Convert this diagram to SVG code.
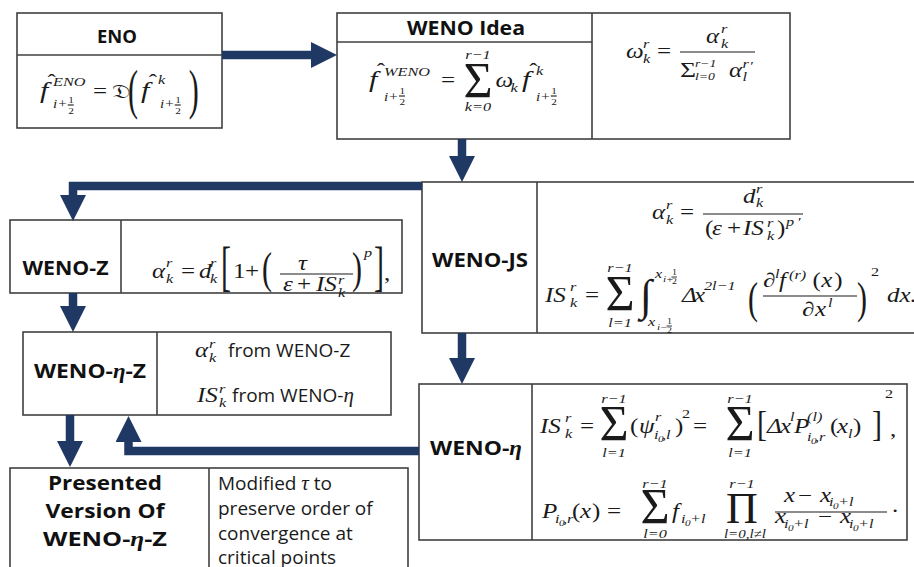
<svg xmlns="http://www.w3.org/2000/svg" width="914" height="567" viewBox="0 0 914 567">
<style>
.box{fill:#fff;stroke:#404040;stroke-width:1.6}
.ln{stroke:#404040;stroke-width:1.6;fill:none}
.h{font-family:"Open Sans",sans-serif;font-weight:700;font-size:20px;fill:#111;text-anchor:middle}
.p{font-family:"Open Sans",sans-serif;font-size:19px;fill:#1a1a1a}
.m{font-family:"Liberation Serif",serif;font-style:italic;font-size:20px;fill:#1a1a1a}
.u{font-style:normal}
.s{font-size:13px}
.s12{font-size:12px}
.s11{font-size:11px}
.t{font-size:9px}
.c{text-anchor:middle}
.f{font-size:24px}
.big{font-family:"Liberation Serif",serif;fill:#1a1a1a;text-anchor:middle}
.fb{stroke:#1a1a1a;stroke-width:1.1}
.eta{font-family:"Liberation Serif",serif;font-style:italic;font-weight:700}
.mi{font-family:"Liberation Serif",serif;font-style:italic;font-size:21px}
.con{fill:none;stroke:#1f3864;stroke-width:8.5;stroke-linejoin:miter}
</style>
<defs>
<marker id="ah" markerUnits="userSpaceOnUse" markerWidth="28" markerHeight="28" refX="0" refY="13" orient="auto"><path d="M0,0 L26,13 L0,26 z" fill="#1f3864"/></marker>
</defs>

<g id="eno">
<rect class="box" x="17" y="13" width="205" height="115"/>
<line class="ln" x1="17" y1="55" x2="222" y2="55"/>
<text class="h" x="117" y="43" style="font-size:18px" textLength="40" lengthAdjust="spacingAndGlyphs">ENO</text>
<g transform="scale(1.25,1)">
<text class="m f" x="32" y="98">f</text>
<text class="m u" x="38" y="89">ˆ</text>
<text class="m s" x="42.4" y="86">ENO</text>
<text class="m s12" x="42.4" y="108">i+</text>
<text class="m u t" x="54.6" y="103">1</text>
<line class="fb" x1="54.2" y1="105" x2="59" y2="105"/>
<text class="m u t" x="54.6" y="114.5">2</text>
<text class="m u" x="74.4" y="98">=</text>
<text class="m u" x="89.6" y="98">𝔇</text>
<text class="m u f" transform="translate(102.4,108.2) scale(1,2.29)">(</text>
<text class="m f" x="112.8" y="98">f</text>
<text class="m u" x="119" y="89">ˆ</text>
<text class="m s" x="126.4" y="84">k</text>
<text class="m s12" x="128" y="108">i+</text>
<text class="m u t" x="140.2" y="103">1</text>
<line class="fb" x1="139.8" y1="105" x2="144.6" y2="105"/>
<text class="m u t" x="140.2" y="114.5">2</text>
<text class="m u f" transform="translate(151,108.2) scale(1,2.29)">)</text>
</g>
</g>

<g id="weno-idea">
<rect class="box" x="337" y="13" width="453" height="126"/>
<line class="ln" x1="592" y1="13" x2="592" y2="139"/>
<line class="ln" x1="337" y1="42" x2="592" y2="42"/>
<text class="h" x="466" y="35" textLength="118" lengthAdjust="spacingAndGlyphs">WENO Idea</text>
<text class="big" x="478" y="97" style="font-size:50px">Σ</text>
<g transform="scale(1.25,1)">
<text class="m f" x="295.2" y="87">f</text>
<text class="m u" x="301.5" y="78">ˆ</text>
<text class="m s" x="307.2" y="76">WENO</text>
<text class="m s12" x="307.2" y="101">i+</text>
<text class="m u t" x="319.6" y="94">1</text>
<line class="fb" x1="319.2" y1="96" x2="324" y2="96"/>
<text class="m u t" x="319.6" y="105.5">2</text>
<text class="m u" x="352.8" y="87">=</text>
<text class="m s c" x="382.4" y="59">r−1</text>
<text class="m s c" x="382.4" y="111">k=0</text>
<text class="m" x="396.4" y="87">ω</text>
<text class="m s" x="408.4" y="92">k</text>
<text class="m f" x="417.6" y="87">f</text>
<text class="m u" x="423.5" y="78">ˆ</text>
<text class="m s" x="428.8" y="75">k</text>
<text class="m s12" x="428.8" y="101">i+</text>
<text class="m u t" x="441" y="94">1</text>
<line class="fb" x1="440.6" y1="96" x2="445.4" y2="96"/>
<text class="m u t" x="441" y="105.5">2</text>
<!-- omega -->
<text class="m" x="500.8" y="58">ω</text>
<text class="m s" x="514.4" y="48">r</text>
<text class="m s" x="514.4" y="63">k</text>
<text class="m u" x="525.6" y="58">=</text>
<line class="fb" x1="544" y1="52" x2="604" y2="52"/>
<text class="m" x="564.8" y="43">α</text>
<text class="m s" x="576.8" y="33">r</text>
<text class="m s" x="576.8" y="48">k</text>
<text class="m u" x="544" y="77" style="font-size:22px">Σ</text>
<text class="m s11" x="556" y="67">r−1</text>
<text class="m s11" x="556" y="80">l=0</text>
<text class="m" x="583.2" y="77">α</text>
<text class="m s" x="594" y="68">r</text>
<text class="m s" x="594" y="81">l</text>
<text class="m s" x="599.5" y="70">′</text>
</g>
</g>

<g id="weno-z">
<rect class="box" x="10" y="220" width="392" height="73"/>
<line class="ln" x1="121" y1="220" x2="121" y2="293"/>
<text class="h" x="65.5" y="275" textLength="86" lengthAdjust="spacingAndGlyphs">WENO-Z</text>
<g transform="scale(1.25,1)">
<text class="m" x="121.6" y="278">α</text>
<text class="m s" x="132.8" y="267">r</text>
<text class="m s" x="132.8" y="283">k</text>
<text class="m u" x="144.8" y="278">=</text>
<text class="m" x="159.2" y="278">d</text>
<text class="m s" x="168" y="267">r</text>
<text class="m s" x="168" y="283">k</text>
<text class="m u f" transform="translate(176.8,285) scale(1,2.28)">[</text>
<text class="m u" x="186.4" y="278">1</text>
<text class="m u" x="196" y="278">+</text>
<text class="m u f" transform="translate(209.6,282.5) scale(1,1.83)">(</text>
<text class="m" x="238.4" y="270">τ</text>
<line class="fb" x1="224" y1="274" x2="282.4" y2="274"/>
<text class="m" x="226.4" y="291">ε</text>
<text class="m u" x="237.6" y="291">+</text>
<text class="m" x="252.8" y="291">IS</text>
<text class="m s" x="270.4" y="284">r</text>
<text class="m s" x="270.4" y="297">k</text>
<text class="m u f" transform="translate(281.6,282.5) scale(1,1.83)">)</text>
<text class="m s" x="291.2" y="257">p</text>
<text class="m u f" transform="translate(299.2,285) scale(1,2.28)">]</text>
<text class="m u" x="307.2" y="280">,</text>
</g>
</g>

<g id="weno-js">
<rect class="box" x="422" y="182" width="500" height="151"/>
<line class="ln" x1="537" y1="182" x2="537" y2="333"/>
<text class="h" x="480" y="267" textLength="96" lengthAdjust="spacingAndGlyphs">WENO-JS</text>
<text class="big" x="620" y="310" style="font-size:50px">Σ</text>
<text class="big" x="646" y="310" style="font-size:44px">∫</text>
<line class="fb" x1="703" y1="214" x2="803" y2="214"/>
<line class="fb" x1="763" y1="296" x2="857" y2="296"/>
<g transform="scale(1.25,1)">
<text class="m" x="521.6" y="219">α</text>
<text class="m s" x="532.8" y="209">r</text>
<text class="m s" x="532.8" y="224">k</text>
<text class="m u" x="544" y="219">=</text>
<text class="m" x="594.4" y="203">d</text>
<text class="m s" x="604.8" y="193">r</text>
<text class="m s" x="604.8" y="207">k</text>
<text class="m u" x="564" y="235">(</text>
<text class="m" x="569.6" y="235">ε</text>
<text class="m u" x="581.6" y="235">+</text>
<text class="m" x="594.4" y="235">IS</text>
<text class="m s" x="613.6" y="227">r</text>
<text class="m s" x="613.6" y="240">k</text>
<text class="m u" x="621.6" y="235">)</text>
<text class="m s" x="628.8" y="226">p</text>
<text class="m s" x="637.6" y="226">′</text>
<!-- IS formula -->
<text class="m" x="436" y="302">IS</text>
<text class="m s" x="456" y="291">r</text>
<text class="m s" x="456" y="307">k</text>
<text class="m u" x="468" y="302">=</text>
<text class="m s c" x="496" y="272">r−1</text>
<text class="m s c" x="496" y="327">l=1</text>
<text class="m s" x="524" y="278">x</text>
<text class="m t" x="530.4" y="282">i+</text>
<text class="m u" x="537.6" y="275" style="font-size:8px">1</text>
<line class="fb" x1="537.2" y1="277" x2="541.5" y2="277" style="stroke-width:0.8"/>
<text class="m u" x="537.6" y="284" style="font-size:8px">2</text>
<text class="m s" x="518.4" y="326">x</text>
<text class="m t" x="525.6" y="330">i−</text>
<text class="m u" x="533.6" y="324" style="font-size:8px">1</text>
<line class="fb" x1="533.2" y1="326" x2="537.5" y2="326" style="stroke-width:0.8"/>
<text class="m u" x="533.6" y="333" style="font-size:8px">2</text>
<text class="m" x="545.6" y="302">Δ</text>
<text class="m" x="555.2" y="302">x</text>
<text class="m s" x="563.2" y="290">2l−1</text>
<text class="m u f" transform="translate(598.4,312.5) scale(1,1.83)">(</text>
<text class="m u" x="610.4" y="287">∂</text>
<text class="m s" x="620" y="278">l</text>
<text class="m" x="623.2" y="287">f</text>
<text class="m s" x="631.2" y="279">(r)</text>
<text class="m u" x="650" y="287">(</text>
<text class="m" x="657" y="287">x</text>
<text class="m u" x="667.5" y="287">)</text>
<text class="m u" x="641.6" y="316">∂</text>
<text class="m" x="652" y="316">x</text>
<text class="m s" x="662.4" y="307">l</text>
<text class="m u f" transform="translate(685.6,312.5) scale(1,1.83)">)</text>
<text class="m u s" x="696.8" y="276">2</text>
<text class="m" x="709.6" y="302">dx.</text>
</g>
</g>

<g id="weno-eta-z">
<rect class="box" x="23" y="332" width="368" height="83"/>
<line class="ln" x1="157" y1="332" x2="157" y2="415"/>
<text class="h" x="90" y="378" textLength="112" lengthAdjust="spacingAndGlyphs">WENO-<tspan class="eta">η</tspan>-Z</text>
<g transform="scale(1.25,1)">
<text class="m" x="156" y="357">α</text>
<text class="m s" x="167.2" y="348">r</text>
<text class="m s" x="167.2" y="362">k</text>
<text class="m" x="157.6" y="402">IS</text>
<text class="m s" x="175.2" y="393">r</text>
<text class="m s" x="175.2" y="407">k</text>
</g>
<text class="p" x="228" y="357">from WENO-Z</text>
<text class="p" x="232" y="402">from WENO-<tspan class="mi">η</tspan></text>
</g>

<g id="weno-eta">
<rect class="box" x="419" y="384" width="488" height="156"/>
<line class="ln" x1="532" y1="384" x2="532" y2="540"/>
<text class="h" x="476" y="455" textLength="92" lengthAdjust="spacingAndGlyphs">WENO-<tspan class="eta">η</tspan></text>
<text class="big" x="614" y="440" style="font-size:50px">Σ</text>
<text class="big" x="740" y="440" style="font-size:50px">Σ</text>
<text class="big" x="655" y="523" style="font-size:50px">Σ</text>
<text class="big" x="742" y="523" style="font-size:44px">Π</text>
<line class="fb" x1="775" y1="512" x2="887" y2="512"/>
<g transform="scale(1.25,1)">
<text class="m" x="432" y="433">IS</text>
<text class="m s" x="452" y="422">r</text>
<text class="m s" x="452" y="438">k</text>
<text class="m u" x="464" y="433">=</text>
<text class="m s c" x="491.2" y="403">r−1</text>
<text class="m s c" x="491.2" y="457">l=1</text>
<text class="m u" x="504" y="433">(</text>
<text class="m" x="511.2" y="433">ψ</text>
<text class="m s" x="524" y="421">r</text>
<text class="m s" x="523.2" y="439">i</text>
<text class="m t" x="526.4" y="442">0</text>
<text class="m s" x="529.6" y="439">,l</text>
<text class="m u" x="540" y="433">)</text>
<text class="m u s" x="545.6" y="418">2</text>
<text class="m u" x="554.4" y="433">=</text>
<text class="m s c" x="592" y="403">r−1</text>
<text class="m s c" x="592" y="457">l=1</text>
<text class="m u f" transform="translate(605.6,435.8) scale(1,1.46)">[</text>
<text class="m" x="613.6" y="433">Δ</text>
<text class="m" x="624" y="433">x</text>
<text class="m s" x="632" y="421">l</text>
<text class="m" x="635.2" y="433">P</text>
<text class="m s" x="645.6" y="421">(l)</text>
<text class="m s" x="645.6" y="441">i</text>
<text class="m t" x="648.8" y="444">0</text>
<text class="m s" x="652" y="441">,r</text>
<text class="m u" x="664" y="433">(</text>
<text class="m" x="669.6" y="433">x</text>
<text class="m s" x="678.4" y="438">l</text>
<text class="m u" x="682.4" y="433">)</text>
<text class="m u f" transform="translate(697.6,435.8) scale(1,1.46)">]</text>
<text class="m u s" x="708" y="398">2</text>
<text class="m u" x="712" y="436">,</text>
<!-- row 2 -->
<text class="m" x="433.6" y="518">P</text>
<text class="m s" x="444" y="523">i</text>
<text class="m t" x="447.2" y="526">0</text>
<text class="m s" x="450.4" y="523">,r</text>
<text class="m u" x="457.6" y="518">(</text>
<text class="m" x="464" y="518">x</text>
<text class="m u" x="473.6" y="518">)</text>
<text class="m u" x="485.6" y="518">=</text>
<text class="m s c" x="524" y="488">r−1</text>
<text class="m s c" x="524" y="538">l=0</text>
<text class="m" x="537.6" y="518">f</text>
<text class="m s" x="544.8" y="523">i</text>
<text class="m t" x="548" y="526">0</text>
<text class="m s" x="552" y="523">+l</text>
<text class="m s c" x="593.6" y="488">r−1</text>
<text class="m s12 c" x="596" y="538">l=0,l≠l</text>
<text class="m" x="627.2" y="502">x</text>
<text class="m u" x="638.4" y="502">−</text>
<text class="m" x="656" y="502">x</text>
<text class="m s" x="663.2" y="506">i</text>
<text class="m t" x="666.4" y="509">0</text>
<text class="m s" x="670.4" y="506">+l</text>
<text class="m" x="620" y="523">x</text>
<text class="m s" x="627.2" y="528">i</text>
<text class="m t" x="630.4" y="531">0</text>
<text class="m s" x="634.4" y="528">+l</text>
<text class="m u" x="654.4" y="523">−</text>
<text class="m" x="672" y="523">x</text>
<text class="m s" x="679.2" y="528">i</text>
<text class="m t" x="682.4" y="531">0</text>
<text class="m s" x="686.4" y="528">+l</text>
<text class="m u" x="713.6" y="512">.</text>
</g>
</g>

<g id="presented">
<rect class="box" x="10" y="468" width="398" height="130"/>
<line class="ln" x1="209" y1="468" x2="209" y2="567"/>
<text class="h" x="105" y="490" textLength="114" lengthAdjust="spacingAndGlyphs">Presented</text>
<text class="h" x="105" y="518" textLength="119" lengthAdjust="spacingAndGlyphs">Version Of</text>
<text class="h" x="105" y="546" textLength="124" lengthAdjust="spacingAndGlyphs">WENO-<tspan class="eta">η</tspan>-Z</text>
<text class="p" x="218" y="490">Modified <tspan class="mi">τ</tspan> to</text>
<text class="p" x="218" y="515">preserve order of</text>
<text class="p" x="218" y="540">convergence at</text>
<text class="p" x="218" y="564">critical points</text>
</g>

<g id="connectors">
<path class="con" d="M222,55 H311" marker-end="url(#ah)"/>
<path class="con" d="M462,139 V156" marker-end="url(#ah)"/>
<path class="con" d="M422,186 H73 V195" marker-end="url(#ah)"/>
<path class="con" d="M73,293 V306" marker-end="url(#ah)"/>
<path class="con" d="M462,333 V358" marker-end="url(#ah)"/>
<path class="con" d="M70,415 V441" marker-end="url(#ah)"/>
<path class="con" d="M419,451 H128.5 V442" marker-end="url(#ah)"/>
</g>
</svg>
